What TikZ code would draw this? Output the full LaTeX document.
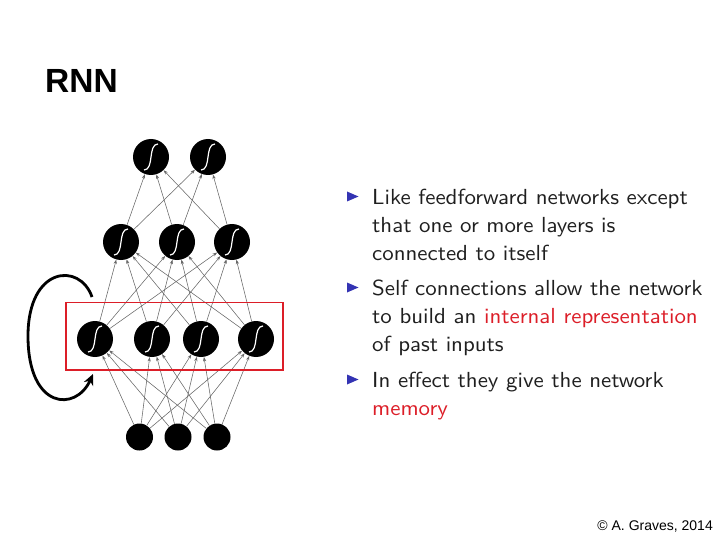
\documentclass[tikz,border=0pt]{standalone}
\usepackage{fontspec}
\newfontfamily\arialfont{Liberation Sans}
\newfontfamily\lmsten[Extension=.otf,FakeStretch=1.05]{lmsans10-regular}
\usetikzlibrary{arrows.meta}
\definecolor{alertred}{RGB}{220,30,40}
\definecolor{bulletblue}{RGB}{51,51,179}
\definecolor{boxred}{RGB}{220,30,40}
\begin{document}
\begin{tikzpicture}[x=1pt,y=-1pt,
  neuron/.style={circle,fill=black,minimum size=36pt,inner sep=0pt},
  inputnode/.style={circle,fill=black,minimum size=27pt,inner sep=0pt},
  conn/.style={draw=black!60,line width=0.55pt,-{Stealth[length=4.5pt,width=3.2pt]}},
  sigline/.style={draw=white,line width=1.2pt},
  bodytext/.style={anchor=base west,inner sep=0pt,font=\lmsten\fontsize{21.8}{26}\selectfont,text=black!88},
  bullet/.style={fill=bulletblue},
  loopline/.style={line width=2.8pt,-{Stealth[length=11pt,width=10pt]}},
]
\useasboundingbox (0,0) rectangle (720,540);

% title
\node[anchor=base west,inner sep=0pt,font=\arialfont\bfseries\fontsize{33.5}{40}\selectfont] (title) at (45,93) {RNN};

% nodes
\node[neuron] (o1) at (151,157) {};
\node[neuron] (o2) at (208,157) {};
\node[neuron] (m1) at (121,242) {};
\node[neuron] (m2) at (177,242) {};
\node[neuron] (m3) at (232,242) {};
\node[neuron] (h1) at (95,339) {};
\node[neuron] (h2) at (152,339) {};
\node[neuron] (h3) at (201,339) {};
\node[neuron] (h4) at (256,339) {};
\node[inputnode] (i1) at (139.5,437) {};
\node[inputnode] (i2) at (178,437) {};
\node[inputnode] (i3) at (217,437) {};

\foreach \n in {o1,o2,m1,m2,m3,h1,h2,h3,h4}
  \draw[sigline,shift={(\n)}] (-7,13) .. controls (3.5,13) and (-3.5,-13) .. (7,-13);

% connections
\foreach \a in {i1,i2,i3}
  \foreach \b in {h1,h2,h3,h4}
    \draw[conn] (\a) -- (\b);
\foreach \a in {h1,h2,h3,h4}
  \foreach \b in {m1,m2,m3}
    \draw[conn] (\a) -- (\b);
\foreach \a in {m1,m2,m3}
  \foreach \b in {o1,o2}
    \draw[conn] (\a) -- (\b);

% recurrent box
\node[draw=boxred,line width=1.6pt,minimum width=216.5pt,minimum height=67.5pt,inner sep=0pt] (box) at (174.5,336.2) {};

% self loop
\coordinate (loopA) at (92,297);
\coordinate (loopB) at (93,374);
\draw[loopline] (loopA) .. controls (80,262) and (28,266) .. (28,336) .. controls (28,410) and (76,412) .. (loopB);

% bullets
\fill[bullet] (347,191.5) -- (358.5,196.5) -- (347,201.5) -- cycle;
\fill[bullet] (347,282.5) -- (358.5,287.5) -- (347,292.5) -- cycle;
\fill[bullet] (347,374.5) -- (358.5,379.5) -- (347,384.5) -- cycle;

\node[bodytext] (t1) at (372,204.3) {Like feedforward networks except};
\node[bodytext] (t2) at (372,233) {that one or more layers is};
\node[bodytext] (t3) at (372,260.5) {connected to itself};
\node[bodytext] (t4) at (372,295.5) {Self connections allow the network};
\node[bodytext] (t5) at (372,323.5) {to build an \textcolor{alertred}{internal representation}};
\node[bodytext] (t6) at (372,351.5) {of past inputs};
\node[bodytext] (t7) at (372,387.5) {In effect they give the network};
\node[bodytext] (t8) at (372,415) {\textcolor{alertred}{memory}};

% copyright
\node[anchor=base east,inner sep=0pt,font=\arialfont\fontsize{14}{16}\selectfont] (copy) at (713,530) {© A. Graves, 2014};
\end{tikzpicture}
\end{document}
